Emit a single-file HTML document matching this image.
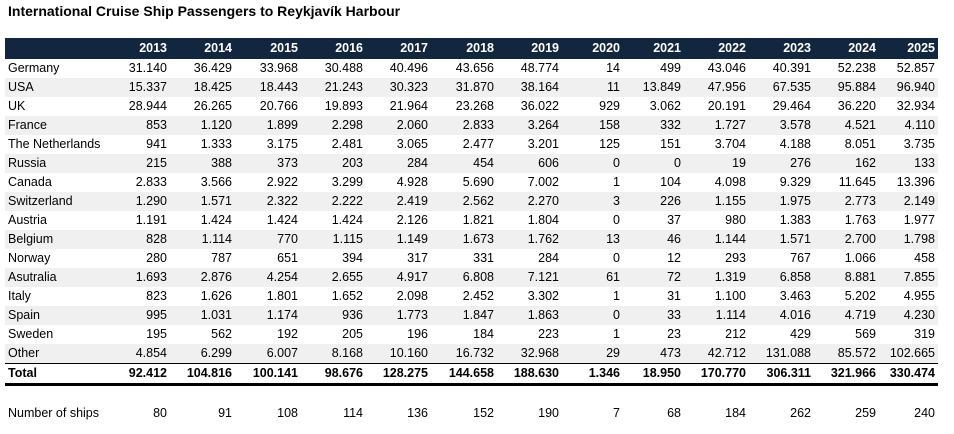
<!DOCTYPE html>
<html><head><meta charset="utf-8"><style>
body{margin:0;width:954px;height:434px;background:#fff;font-family:"Liberation Sans",Arial,sans-serif;position:relative;overflow:hidden;color:#000}
.title{position:absolute;left:8px;top:3px;font-weight:bold;font-size:14px;}
table{position:absolute;left:5px;top:38px;border-collapse:collapse;table-layout:fixed;width:933px;font-size:12.5px}
td{height:19px;padding:0;text-align:right;white-space:nowrap;line-height:19px}
td:first-child{text-align:left;padding-left:3px}
td:last-child{padding-right:3px}
tr.h td{background:#13263f;color:#fff;font-weight:bold;height:21px;line-height:21px}
tr.s td{background:#f0f0f0}
tr.t td{font-weight:bold;border-top:1.5px solid #000;border-bottom:3px solid #000;height:18px}
tr.sp td{height:18px}
</style></head><body>
<div class="title">International Cruise Ship Passengers to Reykjavík Harbour</div>
<table>
<colgroup><col style="width:97px"><col style="width:65px"><col style="width:65px"><col style="width:66px"><col style="width:65px"><col style="width:65px"><col style="width:66px"><col style="width:65px"><col style="width:61px"><col style="width:61px"><col style="width:65px"><col style="width:65px"><col style="width:65px"><col style="width:62px"></colgroup>
<tr class="h"><td></td><td>2013</td><td>2014</td><td>2015</td><td>2016</td><td>2017</td><td>2018</td><td>2019</td><td>2020</td><td>2021</td><td>2022</td><td>2023</td><td>2024</td><td>2025</td></tr>
<tr><td>Germany</td><td>31.140</td><td>36.429</td><td>33.968</td><td>30.488</td><td>40.496</td><td>43.656</td><td>48.774</td><td>14</td><td>499</td><td>43.046</td><td>40.391</td><td>52.238</td><td>52.857</td></tr>
<tr class="s"><td>USA</td><td>15.337</td><td>18.425</td><td>18.443</td><td>21.243</td><td>30.323</td><td>31.870</td><td>38.164</td><td>11</td><td>13.849</td><td>47.956</td><td>67.535</td><td>95.884</td><td>96.940</td></tr>
<tr><td>UK</td><td>28.944</td><td>26.265</td><td>20.766</td><td>19.893</td><td>21.964</td><td>23.268</td><td>36.022</td><td>929</td><td>3.062</td><td>20.191</td><td>29.464</td><td>36.220</td><td>32.934</td></tr>
<tr class="s"><td>France</td><td>853</td><td>1.120</td><td>1.899</td><td>2.298</td><td>2.060</td><td>2.833</td><td>3.264</td><td>158</td><td>332</td><td>1.727</td><td>3.578</td><td>4.521</td><td>4.110</td></tr>
<tr><td>The Netherlands</td><td>941</td><td>1.333</td><td>3.175</td><td>2.481</td><td>3.065</td><td>2.477</td><td>3.201</td><td>125</td><td>151</td><td>3.704</td><td>4.188</td><td>8.051</td><td>3.735</td></tr>
<tr class="s"><td>Russia</td><td>215</td><td>388</td><td>373</td><td>203</td><td>284</td><td>454</td><td>606</td><td>0</td><td>0</td><td>19</td><td>276</td><td>162</td><td>133</td></tr>
<tr><td>Canada</td><td>2.833</td><td>3.566</td><td>2.922</td><td>3.299</td><td>4.928</td><td>5.690</td><td>7.002</td><td>1</td><td>104</td><td>4.098</td><td>9.329</td><td>11.645</td><td>13.396</td></tr>
<tr class="s"><td>Switzerland</td><td>1.290</td><td>1.571</td><td>2.322</td><td>2.222</td><td>2.419</td><td>2.562</td><td>2.270</td><td>3</td><td>226</td><td>1.155</td><td>1.975</td><td>2.773</td><td>2.149</td></tr>
<tr><td>Austria</td><td>1.191</td><td>1.424</td><td>1.424</td><td>1.424</td><td>2.126</td><td>1.821</td><td>1.804</td><td>0</td><td>37</td><td>980</td><td>1.383</td><td>1.763</td><td>1.977</td></tr>
<tr class="s"><td>Belgium</td><td>828</td><td>1.114</td><td>770</td><td>1.115</td><td>1.149</td><td>1.673</td><td>1.762</td><td>13</td><td>46</td><td>1.144</td><td>1.571</td><td>2.700</td><td>1.798</td></tr>
<tr><td>Norway</td><td>280</td><td>787</td><td>651</td><td>394</td><td>317</td><td>331</td><td>284</td><td>0</td><td>12</td><td>293</td><td>767</td><td>1.066</td><td>458</td></tr>
<tr class="s"><td>Asutralia</td><td>1.693</td><td>2.876</td><td>4.254</td><td>2.655</td><td>4.917</td><td>6.808</td><td>7.121</td><td>61</td><td>72</td><td>1.319</td><td>6.858</td><td>8.881</td><td>7.855</td></tr>
<tr><td>Italy</td><td>823</td><td>1.626</td><td>1.801</td><td>1.652</td><td>2.098</td><td>2.452</td><td>3.302</td><td>1</td><td>31</td><td>1.100</td><td>3.463</td><td>5.202</td><td>4.955</td></tr>
<tr class="s"><td>Spain</td><td>995</td><td>1.031</td><td>1.174</td><td>936</td><td>1.773</td><td>1.847</td><td>1.863</td><td>0</td><td>33</td><td>1.114</td><td>4.016</td><td>4.719</td><td>4.230</td></tr>
<tr><td>Sweden</td><td>195</td><td>562</td><td>192</td><td>205</td><td>196</td><td>184</td><td>223</td><td>1</td><td>23</td><td>212</td><td>429</td><td>569</td><td>319</td></tr>
<tr class="s"><td>Other</td><td>4.854</td><td>6.299</td><td>6.007</td><td>8.168</td><td>10.160</td><td>16.732</td><td>32.968</td><td>29</td><td>473</td><td>42.712</td><td>131.088</td><td>85.572</td><td>102.665</td></tr>
<tr class="t"><td>Total</td><td>92.412</td><td>104.816</td><td>100.141</td><td>98.676</td><td>128.275</td><td>144.658</td><td>188.630</td><td>1.346</td><td>18.950</td><td>170.770</td><td>306.311</td><td>321.966</td><td>330.474</td></tr>
<tr class="sp"><td></td><td></td><td></td><td></td><td></td><td></td><td></td><td></td><td></td><td></td><td></td><td></td><td></td><td></td></tr>
<tr><td>Number of ships</td><td>80</td><td>91</td><td>108</td><td>114</td><td>136</td><td>152</td><td>190</td><td>7</td><td>68</td><td>184</td><td>262</td><td>259</td><td>240</td></tr>
</table>
</body></html>
